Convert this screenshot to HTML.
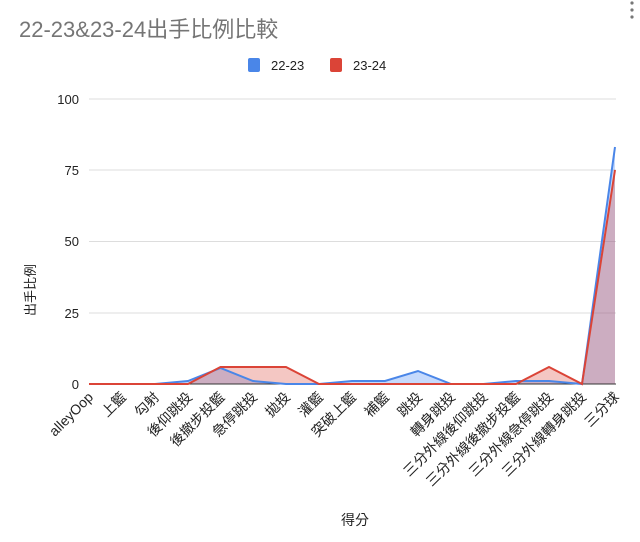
<!DOCTYPE html>
<html><head><meta charset="utf-8"><style>
body{margin:0;background:#fff;}
svg text{font-family:"Liberation Sans","Noto Sans CJK TC",sans-serif;}
</style></head><body>
<svg width="640" height="537" viewBox="0 0 640 537" xmlns="http://www.w3.org/2000/svg">
<rect width="640" height="537" fill="#fff"/>
<text x="19" y="37" font-size="22" fill="#757575">22-23&amp;23-24出手比例比較</text>
<circle cx="632" cy="3" r="1.6" fill="#777"/><circle cx="632" cy="10" r="1.6" fill="#777"/><circle cx="632" cy="17" r="1.6" fill="#777"/>
<rect x="248" y="58" width="12" height="14" rx="2" fill="#4a86e8"/>
<text x="271" y="70" font-size="13" fill="#222">22-23</text>
<rect x="330" y="58" width="12" height="14" rx="2" fill="#db4437"/>
<text x="353" y="70" font-size="13" fill="#222">23-24</text>
<g stroke="#ddd" stroke-width="1">
<line x1="89" y1="99" x2="616" y2="99"/><line x1="89" y1="170" x2="616" y2="170"/>
<line x1="89" y1="241.5" x2="616" y2="241.5"/><line x1="89" y1="313" x2="616" y2="313"/>
</g>
<g font-size="13" fill="#222" text-anchor="end">
<text x="79" y="104">100</text><text x="79" y="175">75</text><text x="79" y="246">50</text><text x="79" y="318">25</text><text x="79" y="389">0</text>
</g>
<text transform="translate(35,290) rotate(-90)" font-size="13" fill="#222" text-anchor="middle">出手比例</text>
<text x="355" y="525" font-size="14" fill="#222" text-anchor="middle">得分</text>
<polygon fill="rgba(66,133,244,0.3)" points="89,384 89,384 122,384 155,384 188,381 220.5,368 253,381 286,384 319,384 352,381 385,381 418,371 451,384 483.5,384 516,381 549,381 582,384 615,147 615,384"/>
<polygon fill="rgba(219,68,55,0.3)" points="89,384 122,384 155,384 188,384 220.5,367 253,367 286,367 319,384 352,384 385,384 418,384 451,384 483.5,384 516,384 549,367 582,384 615,170 615,384"/>
<line x1="89" y1="384" x2="616" y2="384" stroke="#333" stroke-width="1"/>
<polyline fill="none" stroke="#4a86e8" stroke-width="2" points="89,384 122,384 155,384 188,381 220.5,368 253,381 286,384 319,384 352,381 385,381 418,371 451,384 483.5,384 516,381 549,381 582,384 615,147"/>
<polyline fill="none" stroke="#db4437" stroke-width="2" points="89,384 122,384 155,384 188,384 220.5,367 253,367 286,367 319,384 352,384 385,384 418,384 451,384 483.5,384 516,384 549,367 582,384 615,170"/>
<g font-size="14" fill="#222" text-anchor="end">
<text transform="translate(94,398) rotate(-45)">alleyOop</text>
<text transform="translate(127,398) rotate(-45)">上籃</text>
<text transform="translate(160,398) rotate(-45)">勾射</text>
<text transform="translate(193,398) rotate(-45)">後仰跳投</text>
<text transform="translate(225.5,398) rotate(-45)">後撤步投籃</text>
<text transform="translate(258,398) rotate(-45)">急停跳投</text>
<text transform="translate(291,398) rotate(-45)">拋投</text>
<text transform="translate(324,398) rotate(-45)">灌籃</text>
<text transform="translate(357,398) rotate(-45)">突破上籃</text>
<text transform="translate(390,398) rotate(-45)">補籃</text>
<text transform="translate(423,398) rotate(-45)">跳投</text>
<text transform="translate(456,398) rotate(-45)">轉身跳投</text>
<text transform="translate(488.5,398) rotate(-45)">三分外線後仰跳投</text>
<text transform="translate(521,398) rotate(-45)">三分外線後撤步投籃</text>
<text transform="translate(554,398) rotate(-45)">三分外線急停跳投</text>
<text transform="translate(587,398) rotate(-45)">三分外線轉身跳投</text>
<text transform="translate(620,398) rotate(-45)">三分球</text>
</g>
</svg>
</body></html>
